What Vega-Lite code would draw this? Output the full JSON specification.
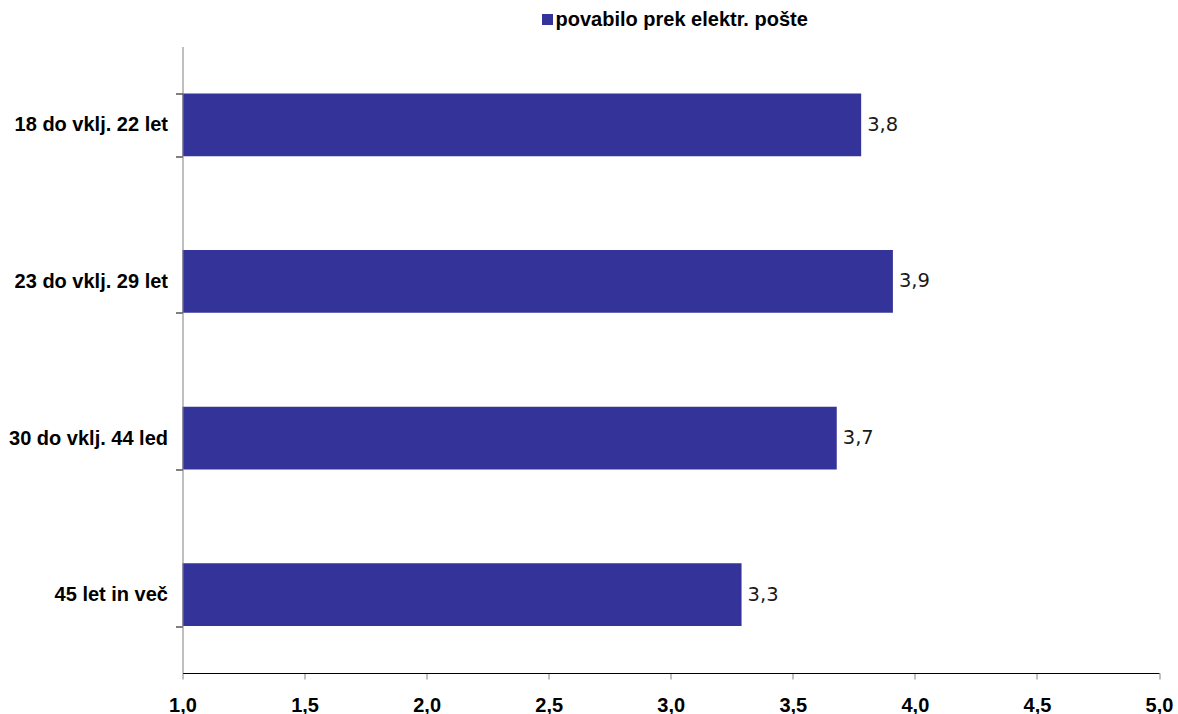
{
  "$schema": "https://vega.github.io/schema/vega-lite/v6.json",
  "autosize": {"type": "none"},
  "padding": {"left": 182.5, "top": 46.5, "right": 19, "bottom": 41},
  "width": 976.5,
  "height": 626.5,
  "data": {
    "values": [
      {"skupina": "18 do vklj. 22 let", "ocena": 3.78, "serija": "povabilo prek elektr. pošte"},
      {"skupina": "23 do vklj. 29 let", "ocena": 3.91, "serija": "povabilo prek elektr. pošte"},
      {"skupina": "30 do vklj. 44 led", "ocena": 3.68, "serija": "povabilo prek elektr. pošte"},
      {"skupina": "45 let in več", "ocena": 3.29, "serija": "povabilo prek elektr. pošte"}
    ]
  },
  "encoding": {
    "y": {
      "field": "skupina",
      "type": "nominal",
      "sort": null,
      "title": null,
      "scale": {"paddingInner": 0.6, "paddingOuter": 0.3},
      "axis": {
        "tickBand": "extent",
        "tickSize": 7,
        "tickColor": "#000000",
        "domainColor": "#808080",
        "labelPadding": 8,
        "labelFont": "Liberation Sans",
        "labelFontWeight": "bold",
        "labelFontSize": 20,
        "labelColor": "#000000",
        "labelLimit": 300,
        "zindex": 1,
        "grid": false
      }
    },
    "x": {
      "field": "ocena",
      "type": "quantitative",
      "title": null,
      "scale": {"domain": [1, 5], "nice": false, "zero": false},
      "axis": {
        "values": [1, 1.5, 2, 2.5, 3, 3.5, 4, 4.5, 5],
        "format": ".1f",
        "tickSize": 6,
        "tickColor": "#808080",
        "domainColor": "#000000",
        "labelPadding": 16,
        "labelFont": "Liberation Sans",
        "labelFontWeight": "bold",
        "labelFontSize": 20,
        "labelColor": "#000000",
        "labelFlush": false,
        "zindex": 1,
        "grid": false
      }
    }
  },
  "layer": [
    {
      "mark": {"type": "bar"},
      "encoding": {
        "x2": {"datum": 1},
        "color": {
          "field": "serija",
          "type": "nominal",
          "scale": {"range": ["#333399"]},
          "legend": {
            "title": null,
            "orient": "none",
            "legendX": 355,
            "legendY": -37,
            "padding": 0,
            "symbolType": "square",
            "symbolSize": 121,
            "symbolStrokeWidth": 0,
            "labelOffset": -2,
            "labelFont": "Liberation Sans",
            "labelFontWeight": "bold",
            "labelFontSize": 20,
            "labelColor": "#000000",
            "labelLimit": 400
          }
        }
      }
    },
    {
      "mark": {
        "type": "text",
        "align": "left",
        "baseline": "middle",
        "dx": 6,
        "font": "DejaVu Sans",
        "fontSize": 19.5,
        "color": "#1a1a1a"
      },
      "encoding": {
        "text": {"field": "ocena", "type": "quantitative", "format": ".1f"}
      }
    }
  ],
  "config": {
    "view": {"stroke": null},
    "locale": {
      "number": {"decimal": ",", "thousands": ".", "grouping": [3], "currency": ["", " €"]}
    }
  }
}
